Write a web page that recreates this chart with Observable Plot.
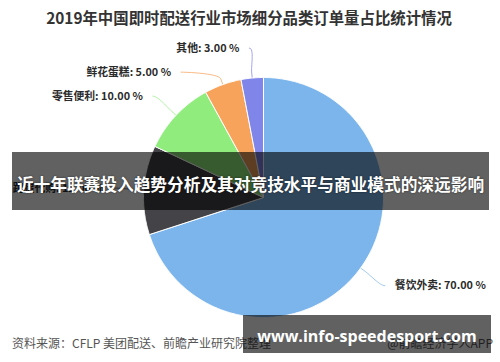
<!DOCTYPE html>
<html>
<head>
<meta charset="utf-8">
<script src="https://cdn.jsdelivr.net/npm/d3@7"></script>
<script src="https://cdn.jsdelivr.net/npm/@observablehq/plot@0.6"></script>
<style>
  html, body { margin: 0; padding: 0; background: #fff; }
  body { width: 500px; height: 362px; overflow: hidden; position: relative;
         font-family: "Noto Sans CJK SC", "Noto Sans", sans-serif; }
  #title { height: 34px; line-height: 34px; text-align: center; font-weight: bold;
           font-size: 15.4px; color: #333; white-space: nowrap; padding-right: 2px; }
  #chart svg { display: block; }
  #source { position: absolute; left: 12px; top: 334px; font-size: 12px; line-height: 18px; color: #555; white-space: nowrap; }
  #credit { position: absolute; right: 7px; top: 334px; font-size: 12px; line-height: 18px; color: #555; white-space: nowrap; }
  .band { position: absolute; background: rgba(0, 0, 0, 0.62); color: #fff; font-weight: bold;
          display: flex; align-items: center; justify-content: center; white-space: nowrap; }
  #headline { left: 12px; top: 152px; width: 477px; height: 58px; font-size: 16.7px; padding-top: 5px; box-sizing: border-box;
              text-shadow: 0 0 2px rgba(0,0,0,0.6); }
  #site { left: 243px; top: 315px; width: 248px; height: 38px; font-size: 16px; padding-top: 4px; box-sizing: border-box;
          font-family: "Open Sans", "DejaVu Sans", sans-serif; }
</style>
</head>
<body>
<div id="title">2019年中国即时配送行业市场细分品类订单量占比统计情况</div>
<div id="chart"></div>
<div id="source">资料来源：CFLP 美团配送、前瞻产业研究院整理</div>
<div id="credit">@前瞻经济学人APP</div>
<div id="headline" class="band">近十年联赛投入趋势分析及其对竞技水平与商业模式的深远影响</div>
<div id="site" class="band">www.info-speedesport.com</div>
<script>
// 2019 instant-delivery order volume by category (%)
const categories = ["餐饮外卖", "跑腿代购", "零售便利", "鲜花蛋糕", "其他"];
const shares = [70, 12, 10, 5, 3];
const palette = ["#7cb5ec", "#434348", "#90ed7d", "#f7a35c", "#8085e9"];

// Chart frame: unit-radius pie, scales chosen so one unit is the same length on both axes
const W = 500, H = 286, R_PX = 120, CX = 263, CY = 163;
const unit = 1 / R_PX;
const xDomain = [-CX * unit, (W - CX) * unit];
const yDomain = [-(H - CY) * unit, CY * unit];

const arcs = d3.pie().sort(null).value(d => d)(shares);
const polar = (a, r) => ({x: r * Math.sin(a), y: r * Math.cos(a)});

// Slice outlines: centre, arc, centre
const sliceRows = [];
arcs.forEach((a, i) => {
  const steps = Math.max(4, Math.ceil((a.endAngle - a.startAngle) / 0.01));
  sliceRows.push({cat: categories[i], x: 0, y: 0});
  for (let k = 0; k <= steps; ++k) {
    const t = a.startAngle + (a.endAngle - a.startAngle) * k / steps;
    sliceRows.push({cat: categories[i], ...polar(t, 1)});
  }
  sliceRows.push({cat: categories[i], x: 0, y: 0});
});

// Data labels placed outside the pie, pushed apart where they crowd
const labelDistance = 0.25, minGap = 0.2, outer = 1 + labelDistance;
const labels = arcs.map((a, i) => {
  const mid = (a.startAngle + a.endAngle) / 2;
  return {i, mid, side: Math.sin(mid) < 0 ? -1 : 1, y: outer * Math.cos(mid),
          cat: categories[i], text: `${categories[i]}: ${shares[i].toFixed(2)} %`};
});
for (const side of [-1, 1]) {
  const group = labels.filter(d => d.side === side).sort((a, b) => b.y - a.y);
  for (let k = 1; k < group.length; ++k)
    group[k].y = Math.min(group[k].y, group[k - 1].y - minGap);
}
labels.forEach(d => {
  d.x = d.side * Math.sqrt(Math.max(0, outer * outer - d.y * d.y));
  d.tx = d.x + d.side * 10 * unit;
});

// Connectors: soft curve from the label to just outside the slice, then into the slice edge
const connectorRows = [];
labels.forEach(d => {
  const touch = polar(d.mid, 1), brk = polar(d.mid, 1.05);
  const p0 = {x: d.x, y: d.y};
  const p1 = {x: d.x - d.side * 5 * unit, y: d.y};
  const p2 = {x: 2 * brk.x - touch.x, y: 2 * brk.y - touch.y};
  const p3 = brk;
  for (let k = 0; k <= 20; ++k) {
    const t = k / 20, u = 1 - t;
    connectorRows.push({cat: d.cat,
      x: u*u*u*p0.x + 3*u*u*t*p1.x + 3*u*t*t*p2.x + t*t*t*p3.x,
      y: u*u*u*p0.y + 3*u*u*t*p1.y + 3*u*t*t*p2.y + t*t*t*p3.y});
  }
  connectorRows.push({cat: d.cat, ...touch});
});

const labelStyle = {x: "tx", y: "y", text: "text", fontSize: 10.8, fontWeight: "bold",
  fill: "#2b2b2b", stroke: "white", strokeWidth: 1.5, fontFamily: "Noto Sans CJK SC"};

const chart = Plot.plot({
  width: W, height: H,
  margin: 0,
  x: {domain: xDomain, axis: null},
  y: {domain: yDomain, axis: null},
  color: {domain: categories, range: palette},
  marks: [
    Plot.line(connectorRows, {x: "x", y: "y", z: "cat", stroke: "cat", strokeWidth: 1, strokeOpacity: 0.75, curve: "linear"}),
    Plot.line(sliceRows, {x: "x", y: "y", z: "cat", fill: "cat", stroke: "white", strokeWidth: 1, strokeLinejoin: "round", curve: "linear"}),
    Plot.text(labels.filter(d => d.side < 0), {...labelStyle, textAnchor: "end"}),
    Plot.text(labels.filter(d => d.side > 0), {...labelStyle, textAnchor: "start"})
  ]
});
document.getElementById("chart").append(chart);
</script>
</body>
</html>
